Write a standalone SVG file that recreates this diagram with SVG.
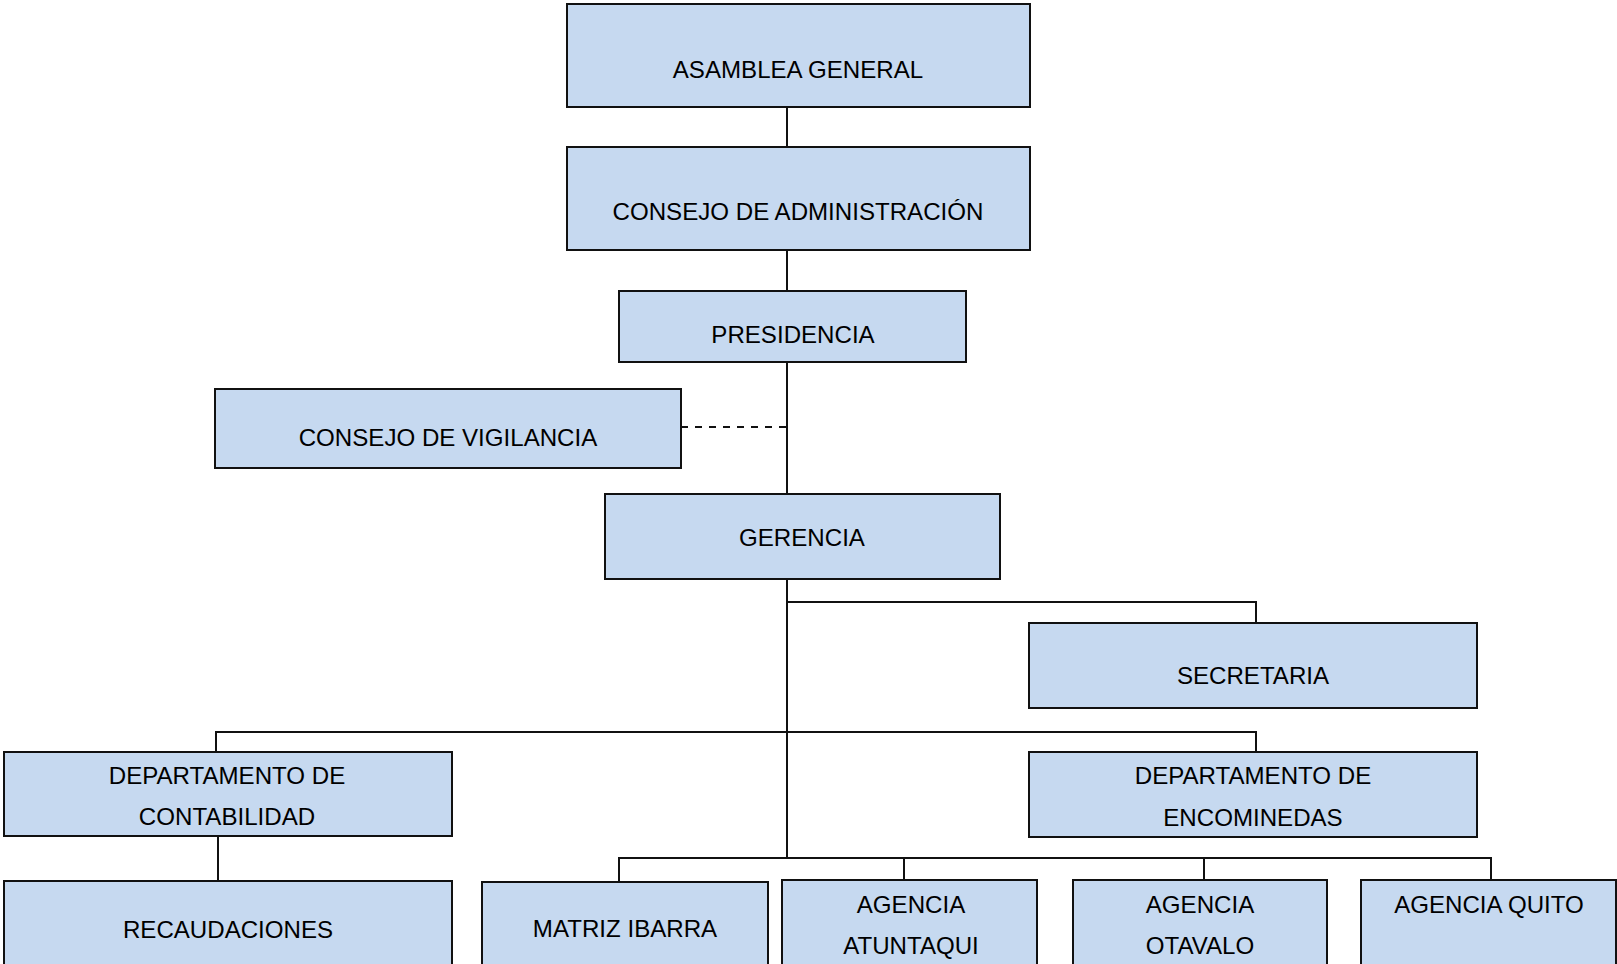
<svg xmlns="http://www.w3.org/2000/svg" width="1617" height="964" viewBox="0 0 1617 964">
<style>
.box{fill:#C6D9F0;stroke:#111;stroke-width:2}
.lbl{font-family:"Liberation Sans",Arial,sans-serif;font-size:24.1px;fill:#000;text-anchor:middle}
.ln{fill:none;stroke:#111;stroke-width:2}
.dash{fill:none;stroke:#111;stroke-width:2;stroke-dasharray:7 7}
</style>
<rect width="1617" height="964" fill="#fff"/>
<g id="connectors">
<path class="ln" d="M787,107V147"/>
<path class="ln" d="M787,250V291"/>
<path class="ln" d="M787,362V494"/>
<path class="dash" d="M681,427H787"/>
<path class="ln" d="M787,579V858"/>
<path class="ln" d="M787,602H1256V623"/>
<path class="ln" d="M216,752V732H1256V752"/>
<path class="ln" d="M218,836V880"/>
<path class="ln" d="M619,881V858H1491V882"/>
<path class="ln" d="M904,858V880"/>
<path class="ln" d="M1204,858V880"/>
</g>
<g id="asamblea"><rect class="box" x="567" y="4" width="463" height="103"/><text class="lbl" x="798" y="78">ASAMBLEA GENERAL</text></g>
<g id="consejo-admin"><rect class="box" x="567" y="147" width="463" height="103"/><text class="lbl" x="798" y="220">CONSEJO DE ADMINISTRACIÓN</text></g>
<g id="presidencia"><rect class="box" x="619" y="291" width="347" height="71"/><text class="lbl" x="793" y="343">PRESIDENCIA</text></g>
<g id="vigilancia"><rect class="box" x="215" y="389" width="466" height="79"/><text class="lbl" x="448" y="446">CONSEJO DE VIGILANCIA</text></g>
<g id="gerencia"><rect class="box" x="605" y="494" width="395" height="85"/><text class="lbl" x="802" y="546">GERENCIA</text></g>
<g id="secretaria"><rect class="box" x="1029" y="623" width="448" height="85"/><text class="lbl" x="1253" y="684">SECRETARIA</text></g>
<g id="contabilidad"><rect class="box" x="4" y="752" width="448" height="84"/><text class="lbl" x="227" y="784">DEPARTAMENTO DE</text><text class="lbl" x="227" y="825">CONTABILIDAD</text></g>
<g id="encomiendas"><rect class="box" x="1029" y="752" width="448" height="85"/><text class="lbl" x="1253" y="784">DEPARTAMENTO DE</text><text class="lbl" x="1253" y="826">ENCOMINEDAS</text></g>
<g id="recaudaciones"><rect class="box" x="4" y="881" width="448" height="120"/><text class="lbl" x="228" y="938">RECAUDACIONES</text></g>
<g id="matriz"><rect class="box" x="482" y="882" width="286" height="120"/><text class="lbl" x="625" y="937">MATRIZ IBARRA</text></g>
<g id="atuntaqui"><rect class="box" x="782" y="880" width="255" height="120"/><text class="lbl" x="911" y="913">AGENCIA</text><text class="lbl" x="911" y="954">ATUNTAQUI</text></g>
<g id="otavalo"><rect class="box" x="1073" y="880" width="254" height="120"/><text class="lbl" x="1200" y="913">AGENCIA</text><text class="lbl" x="1200" y="954">OTAVALO</text></g>
<g id="quito"><rect class="box" x="1361" y="880" width="255" height="120"/><text class="lbl" x="1489" y="913">AGENCIA QUITO</text></g>
</svg>
